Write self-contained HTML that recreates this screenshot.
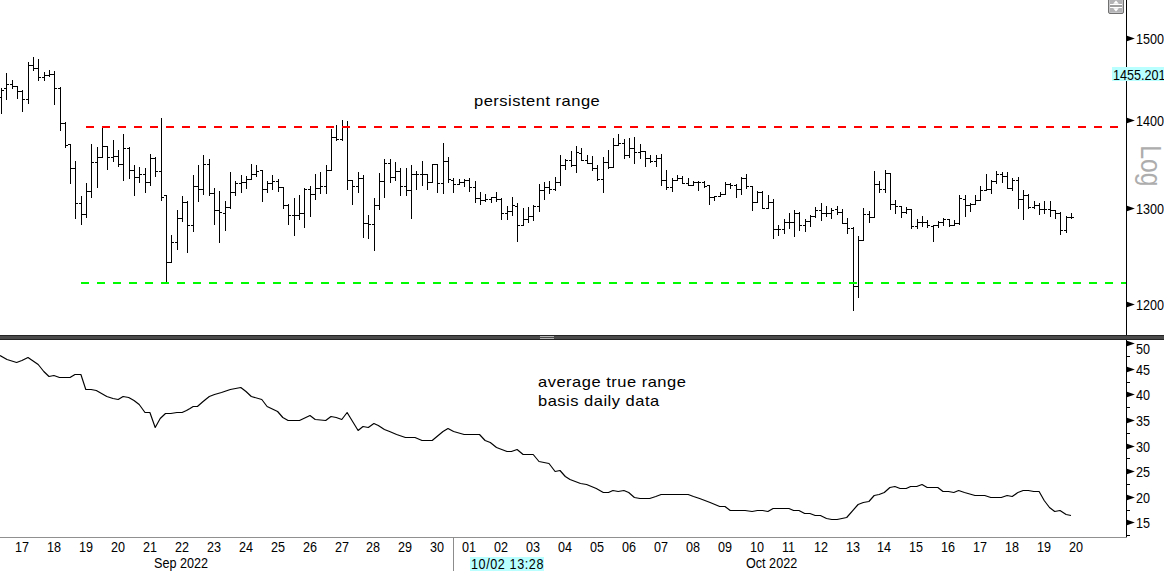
<!DOCTYPE html>
<html><head><meta charset="utf-8"><title>chart</title>
<style>
html,body{margin:0;padding:0;background:#fff;}
body{width:1164px;height:571px;overflow:hidden;position:relative;font-family:"Liberation Sans",sans-serif;}
svg{position:absolute;left:0;top:0;display:block}
.t{position:absolute;white-space:nowrap;color:#000;font-size:13px;line-height:14px;transform:scale(0.97,1.06);transform-origin:0 50%;}
.a{font-size:15px;line-height:19px;transform:scaleX(1.1);letter-spacing:0.45px;transform-origin:0 0;}
</style></head><body>
<svg width="1164" height="571" viewBox="0 0 1164 571">

<g shape-rendering="crispEdges">
<path fill="#000" d="M1 88h1v26h-1zM-1 97h2v1h-2zM2 90h2v1h-2zM6 73h1v27h-1zM4 88h2v1h-2zM7 84h2v1h-2zM12 80h1v9h-1zM10 84h2v1h-2zM13 86h2v1h-2zM17 86h1v13h-1zM15 86h2v1h-2zM18 91h2v1h-2zM22 90h1v22h-1zM20 91h2v1h-2zM23 99h2v1h-2zM28 62h1v42h-1zM26 99h2v1h-2zM29 65h2v1h-2zM33 57h1v14h-1zM31 65h2v1h-2zM34 68h2v1h-2zM38 59h1v22h-1zM36 68h2v1h-2zM39 77h2v1h-2zM44 72h1v9h-1zM42 77h2v1h-2zM45 75h2v1h-2zM49 70h1v7h-1zM47 75h2v1h-2zM50 74h2v1h-2zM54 71h1v34h-1zM52 74h2v1h-2zM55 88h2v1h-2zM60 87h1v44h-1zM58 88h2v1h-2zM61 123h2v1h-2zM65 122h1v26h-1zM63 123h2v1h-2zM66 145h2v1h-2zM70 144h1v40h-1zM68 144h2v1h-2zM71 168h2v1h-2zM75 161h1v58h-1zM73 168h2v1h-2zM76 203h2v1h-2zM81 196h1v29h-1zM79 203h2v1h-2zM82 214h2v1h-2zM86 183h1v35h-1zM84 214h2v1h-2zM87 191h2v1h-2zM91 144h1v54h-1zM89 191h2v1h-2zM92 162h2v1h-2zM97 147h1v41h-1zM95 162h2v1h-2zM98 157h2v1h-2zM102 127h1v31h-1zM100 157h2v1h-2zM103 146h2v1h-2zM107 146h1v24h-1zM105 146h2v1h-2zM108 157h2v1h-2zM113 140h1v22h-1zM111 157h2v1h-2zM114 156h2v1h-2zM118 150h1v17h-1zM116 156h2v1h-2zM119 164h2v1h-2zM123 134h1v47h-1zM121 164h2v1h-2zM124 148h2v1h-2zM129 147h1v32h-1zM127 148h2v1h-2zM130 170h2v1h-2zM134 165h1v31h-1zM132 170h2v1h-2zM135 177h2v1h-2zM139 167h1v16h-1zM137 177h2v1h-2zM140 174h2v1h-2zM145 168h1v25h-1zM143 174h2v1h-2zM146 182h2v1h-2zM150 154h1v32h-1zM148 182h2v1h-2zM151 158h2v1h-2zM155 157h1v20h-1zM153 158h2v1h-2zM156 171h2v1h-2zM161 118h1v83h-1zM159 171h2v1h-2zM162 197h2v1h-2zM166 195h1v87h-1zM164 195h2v1h-2zM167 262h2v1h-2zM171 235h1v28h-1zM169 262h2v1h-2zM172 242h2v1h-2zM177 210h1v40h-1zM175 242h2v1h-2zM178 218h2v1h-2zM182 196h1v26h-1zM180 218h2v1h-2zM183 202h2v1h-2zM187 201h1v52h-1zM185 202h2v1h-2zM188 225h2v1h-2zM193 175h1v57h-1zM191 225h2v1h-2zM194 186h2v1h-2zM198 165h1v37h-1zM196 186h2v1h-2zM199 189h2v1h-2zM203 155h1v40h-1zM201 189h2v1h-2zM204 164h2v1h-2zM209 159h1v37h-1zM207 164h2v1h-2zM210 193h2v1h-2zM214 188h1v37h-1zM212 193h2v1h-2zM215 210h2v1h-2zM219 191h1v52h-1zM217 210h2v1h-2zM220 212h2v1h-2zM225 201h1v30h-1zM223 213h2v1h-2zM226 207h2v1h-2zM230 172h1v37h-1zM228 207h2v1h-2zM231 192h2v1h-2zM235 181h1v15h-1zM233 192h2v1h-2zM236 183h2v1h-2zM241 175h1v18h-1zM239 183h2v1h-2zM242 182h2v1h-2zM246 176h1v13h-1zM244 182h2v1h-2zM247 179h2v1h-2zM251 164h1v16h-1zM249 179h2v1h-2zM252 174h2v1h-2zM256 165h1v12h-1zM254 174h2v1h-2zM257 171h2v1h-2zM262 170h1v32h-1zM260 170h2v1h-2zM263 189h2v1h-2zM267 181h1v12h-1zM265 189h2v1h-2zM268 183h2v1h-2zM272 175h1v15h-1zM270 183h2v1h-2zM273 181h2v1h-2zM278 179h1v13h-1zM276 181h2v1h-2zM279 187h2v1h-2zM283 187h1v22h-1zM281 187h2v1h-2zM284 205h2v1h-2zM288 204h1v21h-1zM286 205h2v1h-2zM289 215h2v1h-2zM294 198h1v38h-1zM292 215h2v1h-2zM295 215h2v1h-2zM299 195h1v25h-1zM297 215h2v1h-2zM300 213h2v1h-2zM304 188h1v40h-1zM302 213h2v1h-2zM305 189h2v1h-2zM310 186h1v31h-1zM308 189h2v1h-2zM311 194h2v1h-2zM315 174h1v26h-1zM313 194h2v1h-2zM316 188h2v1h-2zM320 172h1v22h-1zM318 188h2v1h-2zM321 186h2v1h-2zM326 165h1v29h-1zM324 186h2v1h-2zM327 170h2v1h-2zM331 129h1v42h-1zM329 170h2v1h-2zM332 137h2v1h-2zM336 125h1v16h-1zM334 137h2v1h-2zM337 139h2v1h-2zM342 120h1v21h-1zM340 139h2v1h-2zM343 127h2v1h-2zM347 121h1v69h-1zM345 127h2v1h-2zM348 180h2v1h-2zM352 180h1v25h-1zM350 180h2v1h-2zM353 186h2v1h-2zM358 172h1v21h-1zM356 186h2v1h-2zM359 178h2v1h-2zM363 175h1v63h-1zM361 178h2v1h-2zM364 223h2v1h-2zM368 215h1v24h-1zM366 223h2v1h-2zM369 224h2v1h-2zM374 198h1v53h-1zM372 224h2v1h-2zM375 205h2v1h-2zM379 173h1v37h-1zM377 205h2v1h-2zM380 181h2v1h-2zM384 159h1v39h-1zM382 181h2v1h-2zM385 163h2v1h-2zM390 159h1v24h-1zM388 163h2v1h-2zM391 177h2v1h-2zM395 162h1v19h-1zM393 177h2v1h-2zM396 171h2v1h-2zM400 168h1v28h-1zM398 171h2v1h-2zM401 186h2v1h-2zM406 168h1v28h-1zM404 186h2v1h-2zM407 190h2v1h-2zM411 165h1v54h-1zM409 190h2v1h-2zM412 174h2v1h-2zM416 171h1v19h-1zM414 174h2v1h-2zM417 174h2v1h-2zM422 161h1v25h-1zM420 174h2v1h-2zM423 174h2v1h-2zM427 174h1v16h-1zM425 174h2v1h-2zM428 182h2v1h-2zM432 164h1v19h-1zM430 182h2v1h-2zM433 164h2v1h-2zM437 164h1v29h-1zM435 164h2v1h-2zM438 183h2v1h-2zM443 143h1v51h-1zM441 183h2v1h-2zM444 161h2v1h-2zM448 157h1v26h-1zM446 161h2v1h-2zM449 179h2v1h-2zM453 178h1v15h-1zM451 180h2v1h-2zM454 184h2v1h-2zM459 179h1v6h-1zM457 184h2v1h-2zM460 182h2v1h-2zM464 179h1v8h-1zM462 182h2v1h-2zM465 180h2v1h-2zM469 178h1v14h-1zM467 180h2v1h-2zM470 187h2v1h-2zM475 181h1v22h-1zM473 187h2v1h-2zM476 198h2v1h-2zM480 192h1v13h-1zM478 198h2v1h-2zM481 200h2v1h-2zM485 194h1v8h-1zM483 200h2v1h-2zM486 199h2v1h-2zM491 197h1v6h-1zM489 199h2v1h-2zM492 197h2v1h-2zM496 192h1v10h-1zM494 197h2v1h-2zM497 199h2v1h-2zM501 198h1v22h-1zM499 199h2v1h-2zM502 213h2v1h-2zM507 206h1v14h-1zM505 213h2v1h-2zM508 211h2v1h-2zM512 197h1v19h-1zM510 211h2v1h-2zM513 205h2v1h-2zM517 203h1v39h-1zM515 206h2v1h-2zM518 225h2v1h-2zM523 208h1v18h-1zM521 225h2v1h-2zM524 219h2v1h-2zM528 207h1v16h-1zM526 219h2v1h-2zM529 216h2v1h-2zM533 205h1v16h-1zM531 216h2v1h-2zM534 206h2v1h-2zM539 184h1v28h-1zM537 206h2v1h-2zM540 190h2v1h-2zM544 182h1v18h-1zM542 190h2v1h-2zM545 187h2v1h-2zM549 181h1v13h-1zM547 187h2v1h-2zM550 189h2v1h-2zM555 177h1v14h-1zM553 189h2v1h-2zM556 182h2v1h-2zM560 155h1v31h-1zM558 182h2v1h-2zM561 165h2v1h-2zM565 159h1v11h-1zM563 165h2v1h-2zM566 160h2v1h-2zM571 151h1v16h-1zM569 160h2v1h-2zM572 165h2v1h-2zM576 146h1v27h-1zM574 165h2v1h-2zM577 152h2v1h-2zM581 148h1v13h-1zM579 153h2v1h-2zM582 160h2v1h-2zM587 155h1v9h-1zM585 160h2v1h-2zM588 163h2v1h-2zM592 156h1v15h-1zM590 163h2v1h-2zM593 168h2v1h-2zM597 165h1v16h-1zM595 168h2v1h-2zM598 179h2v1h-2zM603 157h1v36h-1zM601 179h2v1h-2zM604 162h2v1h-2zM608 150h1v19h-1zM606 162h2v1h-2zM609 167h2v1h-2zM613 138h1v30h-1zM611 167h2v1h-2zM614 145h2v1h-2zM618 134h1v12h-1zM616 145h2v1h-2zM619 143h2v1h-2zM624 139h1v20h-1zM622 143h2v1h-2zM625 155h2v1h-2zM629 138h1v20h-1zM627 155h2v1h-2zM630 148h2v1h-2zM634 137h1v27h-1zM632 148h2v1h-2zM635 152h2v1h-2zM640 144h1v15h-1zM638 152h2v1h-2zM641 151h2v1h-2zM645 151h1v16h-1zM643 151h2v1h-2zM646 158h2v1h-2zM650 155h1v8h-1zM648 158h2v1h-2zM651 161h2v1h-2zM656 155h1v12h-1zM654 161h2v1h-2zM657 158h2v1h-2zM661 154h1v32h-1zM659 158h2v1h-2zM662 180h2v1h-2zM666 170h1v20h-1zM664 180h2v1h-2zM667 187h2v1h-2zM672 178h1v14h-1zM670 187h2v1h-2zM673 180h2v1h-2zM677 175h1v6h-1zM675 180h2v1h-2zM678 178h2v1h-2zM682 176h1v8h-1zM680 178h2v1h-2zM683 183h2v1h-2zM688 178h1v8h-1zM686 183h2v1h-2zM689 185h2v1h-2zM693 181h1v5h-1zM691 185h2v1h-2zM694 182h2v1h-2zM698 181h1v10h-1zM696 182h2v1h-2zM699 182h2v1h-2zM704 181h1v7h-1zM702 182h2v1h-2zM705 186h2v1h-2zM709 185h1v20h-1zM707 185h2v1h-2zM710 197h2v1h-2zM714 196h1v5h-1zM712 197h2v1h-2zM715 196h2v1h-2zM720 192h1v5h-1zM718 196h2v1h-2zM721 194h2v1h-2zM725 182h1v13h-1zM723 194h2v1h-2zM726 184h2v1h-2zM730 183h1v6h-1zM728 184h2v1h-2zM731 185h2v1h-2zM736 184h1v14h-1zM734 185h2v1h-2zM737 189h2v1h-2zM741 177h1v18h-1zM739 189h2v1h-2zM742 178h2v1h-2zM746 174h1v15h-1zM744 178h2v1h-2zM747 186h2v1h-2zM752 186h1v25h-1zM750 186h2v1h-2zM753 202h2v1h-2zM757 191h1v12h-1zM755 202h2v1h-2zM758 192h2v1h-2zM762 191h1v18h-1zM760 192h2v1h-2zM763 208h2v1h-2zM768 195h1v14h-1zM766 208h2v1h-2zM769 202h2v1h-2zM773 199h1v40h-1zM771 202h2v1h-2zM774 229h2v1h-2zM778 225h1v11h-1zM776 229h2v1h-2zM779 229h2v1h-2zM784 219h1v15h-1zM782 229h2v1h-2zM785 222h2v1h-2zM789 213h1v16h-1zM787 222h2v1h-2zM790 222h2v1h-2zM794 210h1v27h-1zM792 222h2v1h-2zM795 213h2v1h-2zM799 212h1v19h-1zM797 213h2v1h-2zM800 225h2v1h-2zM805 219h1v13h-1zM803 225h2v1h-2zM806 221h2v1h-2zM810 215h1v12h-1zM808 221h2v1h-2zM811 216h2v1h-2zM815 207h1v11h-1zM813 216h2v1h-2zM816 210h2v1h-2zM821 203h1v18h-1zM819 210h2v1h-2zM822 213h2v1h-2zM826 206h1v11h-1zM824 213h2v1h-2zM827 213h2v1h-2zM831 208h1v11h-1zM829 213h2v1h-2zM832 210h2v1h-2zM837 206h1v9h-1zM835 209h2v1h-2zM838 212h2v1h-2zM842 209h1v15h-1zM840 212h2v1h-2zM843 223h2v1h-2zM847 218h1v16h-1zM845 223h2v1h-2zM848 228h2v1h-2zM853 227h1v84h-1zM851 228h2v1h-2zM854 286h2v1h-2zM858 236h1v62h-1zM856 286h2v1h-2zM859 240h2v1h-2zM863 208h1v33h-1zM861 240h2v1h-2zM864 214h2v1h-2zM869 211h1v12h-1zM867 214h2v1h-2zM870 217h2v1h-2zM874 171h1v47h-1zM872 217h2v1h-2zM875 184h2v1h-2zM879 181h1v12h-1zM877 184h2v1h-2zM880 189h2v1h-2zM885 170h1v23h-1zM883 189h2v1h-2zM886 173h2v1h-2zM890 173h1v37h-1zM888 173h2v1h-2zM891 204h2v1h-2zM895 200h1v14h-1zM893 204h2v1h-2zM896 206h2v1h-2zM901 206h1v12h-1zM899 206h2v1h-2zM902 212h2v1h-2zM906 207h1v7h-1zM904 212h2v1h-2zM907 209h2v1h-2zM911 209h1v20h-1zM909 209h2v1h-2zM912 226h2v1h-2zM917 219h1v10h-1zM915 226h2v1h-2zM918 222h2v1h-2zM922 216h1v11h-1zM920 222h2v1h-2zM923 222h2v1h-2zM927 220h1v8h-1zM925 222h2v1h-2zM928 225h2v1h-2zM933 225h1v17h-1zM931 226h2v1h-2zM934 225h2v1h-2zM938 221h1v7h-1zM936 225h2v1h-2zM939 222h2v1h-2zM943 218h1v8h-1zM941 222h2v1h-2zM944 219h2v1h-2zM949 219h1v8h-1zM947 219h2v1h-2zM950 225h2v1h-2zM954 220h1v6h-1zM952 225h2v1h-2zM955 223h2v1h-2zM959 195h1v30h-1zM957 223h2v1h-2zM960 198h2v1h-2zM965 195h1v22h-1zM963 199h2v1h-2zM966 205h2v1h-2zM970 203h1v9h-1zM968 205h2v1h-2zM971 204h2v1h-2zM975 195h1v10h-1zM973 204h2v1h-2zM976 200h2v1h-2zM980 186h1v15h-1zM978 200h2v1h-2zM981 190h2v1h-2zM986 174h1v17h-1zM984 190h2v1h-2zM987 189h2v1h-2zM991 180h1v14h-1zM989 189h2v1h-2zM992 181h2v1h-2zM996 171h1v13h-1zM994 181h2v1h-2zM997 174h2v1h-2zM1002 172h1v11h-1zM1000 174h2v1h-2zM1003 176h2v1h-2zM1007 172h1v17h-1zM1005 176h2v1h-2zM1008 188h2v1h-2zM1012 178h1v13h-1zM1010 188h2v1h-2zM1013 180h2v1h-2zM1018 177h1v32h-1zM1016 180h2v1h-2zM1019 199h2v1h-2zM1023 190h1v30h-1zM1021 199h2v1h-2zM1024 195h2v1h-2zM1028 194h1v15h-1zM1026 195h2v1h-2zM1029 207h2v1h-2zM1034 201h1v8h-1zM1032 207h2v1h-2zM1035 205h2v1h-2zM1039 203h1v12h-1zM1037 205h2v1h-2zM1040 209h2v1h-2zM1044 201h1v13h-1zM1042 209h2v1h-2zM1045 209h2v1h-2zM1050 201h1v16h-1zM1048 209h2v1h-2zM1051 210h2v1h-2zM1055 210h1v9h-1zM1053 210h2v1h-2zM1056 213h2v1h-2zM1060 212h1v23h-1zM1058 213h2v1h-2zM1061 230h2v1h-2zM1066 216h1v17h-1zM1064 230h2v1h-2zM1067 217h2v1h-2zM1071 213h1v6h-1zM1069 217h2v1h-2zM1072 217h2v1h-2z"/>
<path d="M86 127H1118" stroke="#ff0000" stroke-width="2" stroke-dasharray="8 8" fill="none"/>
<path d="M81 283H1126" stroke="#00fa00" stroke-width="2" stroke-dasharray="8 8" fill="none"/>
<rect x="1126" y="0" width="1" height="537" fill="#000"/>
<rect x="0" y="335" width="1164" height="5" fill="#4a4a4a"/>
<rect x="0" y="335" width="1164" height="1" fill="#242424"/>
<rect x="0" y="339" width="1164" height="1" fill="#242424"/>
<rect x="540" y="336" width="14" height="1" fill="#b4b4b4"/>
<rect x="540" y="338" width="14" height="1" fill="#b4b4b4"/>
<rect x="0" y="537" width="1127" height="1" fill="#909090"/>
<rect x="453" y="537" width="1" height="34" fill="#8c8c8c"/>
<rect x="1112" y="67" width="52" height="14" fill="#b9ffff"/>
<rect x="470" y="557" width="74" height="14" fill="#b9ffff"/>
</g>
<path d="M1127 35.7L1134.8 38.5L1127 41.3z" fill="#000"/>
<path d="M1127 117.7L1134.8 120.5L1127 123.3z" fill="#000"/>
<path d="M1127 205.7L1134.8 208.5L1127 211.3z" fill="#000"/>
<path d="M1127 301.7L1134.8 304.5L1127 307.3z" fill="#000"/>
<path d="M1127 340.7L1134.8 343.5L1127 346.3z" fill="#000"/>
<path d="M1127 366.7L1134.8 369.5L1127 372.3z" fill="#000"/>
<path d="M1127 391.7L1134.8 394.5L1127 397.3z" fill="#000"/>
<path d="M1127 417.7L1134.8 420.5L1127 423.3z" fill="#000"/>
<path d="M1127 443.7L1134.8 446.5L1127 449.3z" fill="#000"/>
<path d="M1127 468.7L1134.8 471.5L1127 474.3z" fill="#000"/>
<path d="M1127 494.7L1134.8 497.5L1127 500.3z" fill="#000"/>
<path d="M1127 519.7L1134.8 522.5L1127 525.3z" fill="#000"/>
<g shape-rendering="crispEdges">
<rect x="1127" y="356" width="3" height="1" fill="#000"/>
<rect x="1127" y="382" width="3" height="1" fill="#000"/>
<rect x="1127" y="407" width="3" height="1" fill="#000"/>
<rect x="1127" y="433" width="3" height="1" fill="#000"/>
<rect x="1127" y="458" width="3" height="1" fill="#000"/>
<rect x="1127" y="484" width="3" height="1" fill="#000"/>
<rect x="1127" y="510" width="3" height="1" fill="#000"/>
<rect x="1127" y="535" width="3" height="1" fill="#000"/>
</g>
<polyline points="0.0,355.5 7.0,359.5 16.6,362.5 21.9,360.5 28.0,357.5 38.2,364.5 43.8,371.5 49.0,376.5 53.9,375.5 59.5,377.5 70.0,377.5 75.0,374.5 80.9,374.5 85.8,389.5 91.1,389.5 96.3,390.5 106.8,396.5 113.0,398.5 118.2,399.5 123.1,396.5 128.7,397.5 134.0,400.5 139.2,404.5 145.0,412.5 149.9,412.5 155.2,427.5 160.2,418.5 165.5,413.5 170.8,413.5 176.9,412.5 182.1,412.5 186.5,410.5 190.0,408.5 193.2,406.5 197.4,406.5 203.1,401.5 209.3,396.5 214.5,394.5 221.5,392.5 230.3,389.5 240.8,387.5 246.0,391.5 251.3,396.5 261.8,399.5 267.1,406.5 277.6,411.5 282.8,417.5 288.1,420.5 299.5,420.5 310.0,415.5 315.2,419.5 325.7,420.5 331.0,416.5 336.2,417.5 341.8,419.5 347.1,412.5 358.1,430.5 363.0,426.5 368.3,427.5 373.9,423.5 378.3,425.5 384.4,429.5 389.6,431.5 396.6,434.5 405.4,437.5 415.0,437.5 422.0,440.5 432.2,440.5 443.0,431.5 448.0,428.5 453.6,431.5 464.1,434.5 479.5,434.5 485.1,440.5 490.3,442.5 496.5,447.5 507.0,451.5 511.4,451.5 517.1,449.5 523.1,454.5 533.2,454.5 539.0,461.5 549.0,463.5 555.1,471.5 560.0,470.5 565.3,476.5 570.0,479.5 580.5,483.5 586.6,484.5 596.3,488.5 603.3,492.5 608.5,492.5 612.9,490.5 618.2,491.5 623.9,490.5 628.7,492.5 634.4,497.5 640.0,498.5 649.7,498.5 655.8,496.5 661.1,494.5 688.2,494.5 693.5,496.5 699.6,498.5 710.1,502.5 719.7,506.5 725.0,506.5 730.2,510.5 745.1,510.5 752.1,511.5 757.4,510.5 762.6,510.5 767.9,511.5 773.1,508.5 783.6,508.5 788.9,508.5 793.6,510.5 798.9,510.5 804.7,513.5 809.9,513.5 815.2,515.5 820.4,515.5 826.5,518.5 831.8,519.5 837.1,519.5 846.7,517.5 858.1,504.5 863.3,502.5 868.9,501.5 874.2,495.5 879.1,494.5 884.3,492.5 889.9,487.5 894.9,486.5 900.1,488.5 906.2,488.5 910.6,486.5 916.7,486.5 922.0,484.5 927.2,487.5 937.8,487.5 943.0,491.5 948.5,491.5 953.8,492.5 958.6,490.5 964.5,492.5 975.0,495.5 984.7,495.5 990.8,497.5 1001.3,497.5 1007.1,495.5 1012.2,496.5 1017.9,492.5 1023.2,490.5 1028.4,490.5 1033.7,491.5 1039.1,491.5 1044.2,500.5 1049.5,507.5 1054.7,511.5 1060.0,510.5 1066.1,514.5 1071.0,515.5" fill="none" stroke="#000" stroke-width="1.15" stroke-linejoin="round"/>
<rect x="1108.5" y="-1.5" width="15" height="15" rx="1.5" fill="#b3b3b5" stroke="#707070" stroke-width="1"/>
<rect x="1109.5" y="-0.5" width="13" height="13" rx="1" fill="none" stroke="#c6c6c8" stroke-width="1"/>
<rect x="1110" y="5" width="12" height="2" fill="#9e9e9e"/>
<rect x="1110" y="4" width="12" height="1" fill="#fff"/><rect x="1110" y="7" width="12" height="1" fill="#fff"/>
<path d="M1116 0.6L1118.8 3.8H1113.2z" fill="#fff"/><path d="M1113.2 8.3H1118.8L1116 11.4z" fill="#fff"/>
<text transform="translate(1141,145.3) rotate(90) scale(0.85,1)" font-family="Liberation Sans, sans-serif" font-size="29" fill="#adadad">Log</text>
</svg>
<div class="t" style="left:1135.6px;top:33.1px;">1500</div>
<div class="t" style="left:1135.6px;top:115.1px;">1400</div>
<div class="t" style="left:1135.6px;top:203.1px;">1300</div>
<div class="t" style="left:1135.6px;top:299.1px;">1200</div>
<div class="t" style="left:1112.6px;top:68.8px;">1455.201</div>
<div class="t" style="left:1135.6px;top:343.1px;">50</div>
<div class="t" style="left:1135.6px;top:364.1px;">45</div>
<div class="t" style="left:1135.6px;top:389.1px;">40</div>
<div class="t" style="left:1135.6px;top:415.1px;">35</div>
<div class="t" style="left:1135.6px;top:441.1px;">30</div>
<div class="t" style="left:1135.6px;top:466.1px;">25</div>
<div class="t" style="left:1135.6px;top:492.1px;">20</div>
<div class="t" style="left:1135.6px;top:517.1px;">15</div>
<div class="t" style="left:15.100000000000001px;top:540.5px;">17</div>
<div class="t" style="left:47.04px;top:540.5px;">18</div>
<div class="t" style="left:78.98px;top:540.5px;">19</div>
<div class="t" style="left:110.92px;top:540.5px;">20</div>
<div class="t" style="left:142.86px;top:540.5px;">21</div>
<div class="t" style="left:174.80000000000004px;top:540.5px;">22</div>
<div class="t" style="left:206.74000000000004px;top:540.5px;">23</div>
<div class="t" style="left:238.68000000000004px;top:540.5px;">24</div>
<div class="t" style="left:270.62px;top:540.5px;">25</div>
<div class="t" style="left:302.56000000000006px;top:540.5px;">26</div>
<div class="t" style="left:334.50000000000006px;top:540.5px;">27</div>
<div class="t" style="left:366.44000000000005px;top:540.5px;">28</div>
<div class="t" style="left:398.38000000000005px;top:540.5px;">29</div>
<div class="t" style="left:430.32000000000005px;top:540.5px;">30</div>
<div class="t" style="left:462.26000000000005px;top:540.5px;">01</div>
<div class="t" style="left:494.20000000000005px;top:540.5px;">02</div>
<div class="t" style="left:526.14px;top:540.5px;">03</div>
<div class="t" style="left:558.0799999999999px;top:540.5px;">04</div>
<div class="t" style="left:590.02px;top:540.5px;">05</div>
<div class="t" style="left:621.9599999999999px;top:540.5px;">06</div>
<div class="t" style="left:653.9px;top:540.5px;">07</div>
<div class="t" style="left:685.8399999999999px;top:540.5px;">08</div>
<div class="t" style="left:717.78px;top:540.5px;">09</div>
<div class="t" style="left:749.7199999999999px;top:540.5px;">10</div>
<div class="t" style="left:781.66px;top:540.5px;">11</div>
<div class="t" style="left:813.5999999999999px;top:540.5px;">12</div>
<div class="t" style="left:845.54px;top:540.5px;">13</div>
<div class="t" style="left:877.4799999999999px;top:540.5px;">14</div>
<div class="t" style="left:909.42px;top:540.5px;">15</div>
<div class="t" style="left:941.3599999999999px;top:540.5px;">16</div>
<div class="t" style="left:973.3px;top:540.5px;">17</div>
<div class="t" style="left:1005.2399999999999px;top:540.5px;">18</div>
<div class="t" style="left:1037.18px;top:540.5px;">19</div>
<div class="t" style="left:1069.12px;top:540.5px;">20</div>
<div class="t" style="left:154.2px;top:556.5px;">Sep 2022</div>
<div class="t" style="left:746px;top:556.5px;">Oct 2022</div>
<div class="t" style="left:470.6px;top:558.2px;letter-spacing:0.6px;">10/02 13:28</div>
<div class="t a" style="left:474.3px;top:90.9px;">persistent range</div>
<div class="t a" style="left:538.4px;top:371.9px;">average true range<br>basis daily data</div>
</body></html>
